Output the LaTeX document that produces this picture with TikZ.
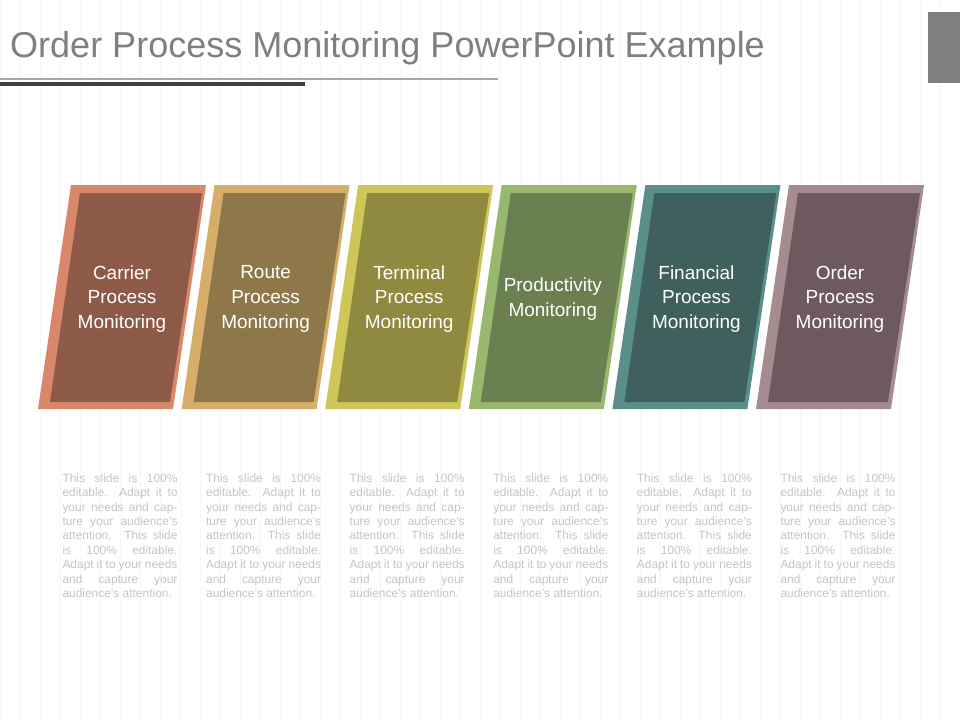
\documentclass[tikz,border=0pt]{standalone}
\usepackage{fontspec}
\setmainfont{Liberation Sans}
\usepackage{tikz}
\definecolor{titlegray}{HTML}{7F7F7F}
\definecolor{bodygray}{HTML}{C4C4C4}
\definecolor{oA}{HTML}{D9876A}\definecolor{iA}{HTML}{8E5A48}
\definecolor{oB}{HTML}{D6AE6A}\definecolor{iB}{HTML}{8E7748}
\definecolor{oC}{HTML}{CFC65A}\definecolor{iC}{HTML}{8F8A3F}
\definecolor{oD}{HTML}{98B870}\definecolor{iD}{HTML}{6A8050}
\definecolor{oE}{HTML}{5A8E88}\definecolor{iE}{HTML}{3F605C}
\definecolor{oF}{HTML}{A48C90}\definecolor{iF}{HTML}{6E5A5E}
\tikzset{
  label/.style={text=white, align=center, font=\fontsize{10.8}{14}\selectfont},
  body/.style={text=bodygray, text width=2.3cm, align=justify, inner sep=0pt, anchor=north, font=\fontsize{6.8}{8.25}\selectfont}
}
\begin{document}
\begin{tikzpicture}[x=0.02cm, y=-0.02cm]
\useasboundingbox (0,0) rectangle (960,720);
% faint grid
\draw[gray!6, step=20] (0,0) grid (960,720);
% title
\node[anchor=west, text=titlegray, font=\fontsize{20.5}{24}\selectfont] (title) at (4,48) {Order Process Monitoring PowerPoint Example};
\draw[titlegray!70, line width=0.6pt] (0,79) -- (498,79);
\draw[black!75, line width=1.8pt] (0,84) -- (305,84);
\fill[titlegray] (928,12) rectangle (960,83);
% steps
\foreach \i/\o/\c/\txt in {0/oA/iA/{Carrier\\Process\\Monitoring},
    1/oB/iB/{Route\\Process\\Monitoring},
    2/oC/iC/{Terminal\\Process\\Monitoring},
    3/oD/iD/{Productivity\\Monitoring},
    4/oE/iE/{Financial\\Process\\Monitoring},
    5/oF/iF/{Order\\Process\\Monitoring}} {
  \begin{scope}[xshift={\i*143.6*0.02cm}]
  \fill[\o] (71,185) -- (206,185) -- (173,409) -- (38,409) -- cycle;
  \fill[\c] (80,193) -- (202,193) -- (170,402) -- (50,402) -- cycle;
  \node[label] (step\i) at (122,299) {\txt};
  \node[body] (text\i) at (120,473) {This slide is 100\% editable. Adapt it to your needs and capture your audience's attention. This slide is 100\% editable. Adapt it to your needs and capture your audience's attention.};
  \end{scope}
}
\end{tikzpicture}
\end{document}
